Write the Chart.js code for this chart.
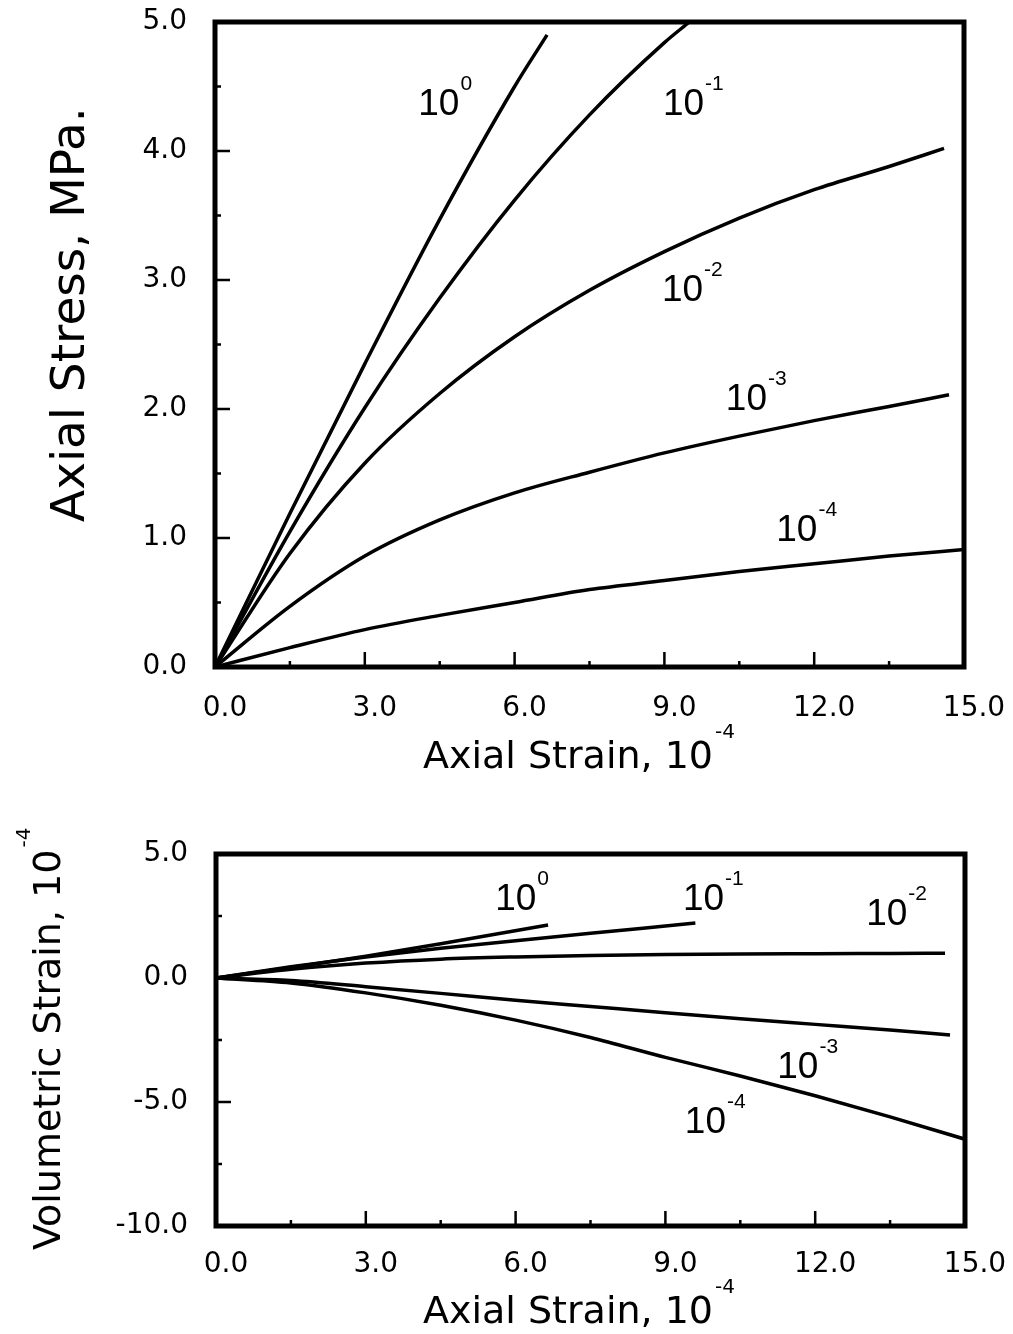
<!DOCTYPE html>
<html>
<head>
<meta charset="utf-8">
<title>Axial stress and volumetric strain vs axial strain</title>
<script src="https://cdn.jsdelivr.net/npm/chart.js@4.4.1/dist/chart.umd.min.js"></script>
<style>
  html, body { margin: 0; padding: 0; background: #fff; }
  #page { position: relative; width: 1013px; height: 1334px; overflow: hidden; }
  canvas { position: absolute; left: 0; }
  #stressChart { top: 0; }
  #volChart { top: 800px; }
</style>
</head>
<body>
<div id="page">
  <canvas id="stressChart" width="1013" height="800"></canvas>
  <canvas id="volChart" width="1013" height="534"></canvas>
</div>
<script>
// Strain-rate exponents of the five curves (rate = 10^exp)
const rateExponents = ['0', '-1', '-2', '-3', '-4'];

// Axial stress (MPa) against axial strain (10^-4), one pair of arrays per rate
const stressStrain_e0 = [0, 1.5, 3, 4.5, 6, 6.65];
const stress_e0       = [0, 1.19, 2.35, 3.47, 4.5, 4.9];
const stressStrain_e1 = [0, 1.5, 3, 4.5, 6, 7.5, 9, 9.5];
const stress_e1       = [0, 1.05, 2.01, 2.86, 3.62, 4.28, 4.84, 5.0];
const stressStrain_e2 = [0, 1.5, 3, 4.5, 6, 7.5, 9, 10.5, 12, 13.5, 14.6];
const stress_e2       = [0, 0.88, 1.58, 2.12, 2.56, 2.92, 3.22, 3.48, 3.70, 3.88, 4.02];
const stressStrain_e3 = [0, 1.5, 3, 4.5, 6, 7.5, 9, 10.5, 12, 13.5, 14.7];
const stress_e3       = [0, 0.47, 0.86, 1.14, 1.35, 1.51, 1.66, 1.79, 1.91, 2.02, 2.11];
const stressStrain_e4 = [0, 1.5, 3, 4.5, 6, 7.5, 9, 10.5, 12, 13.5, 15];
const stress_e4       = [0, 0.15, 0.29, 0.40, 0.50, 0.60, 0.67, 0.74, 0.80, 0.86, 0.91];

// Volumetric strain (10^-4) against axial strain (10^-4)
const volStrain_e0 = [0, 1.5, 3, 4.5, 6.65];
const vol_e0       = [0, 0.42, 0.88, 1.38, 2.14];
const volStrain_e1 = [0, 1.5, 3, 4.5, 6, 7.5, 9.6];
const vol_e1       = [0, 0.45, 0.85, 1.2, 1.5, 1.8, 2.22];
const volStrain_e2 = [0, 1.5, 3, 4.5, 6, 7.5, 9, 10.5, 12, 13.5, 14.6];
const vol_e2       = [0, 0.35, 0.6, 0.76, 0.85, 0.91, 0.95, 0.97, 0.98, 0.99, 1.0];
const volStrain_e3 = [0, 1.5, 3, 4.5, 6, 7.5, 9, 10.5, 12, 13.5, 14.7];
const vol_e3       = [0, -0.1, -0.35, -0.62, -0.9, -1.15, -1.4, -1.64, -1.87, -2.1, -2.3];
const volStrain_e4 = [0, 1.5, 3, 4.5, 6, 7.5, 9, 10.5, 12, 13.5, 15];
const vol_e4       = [0, -0.2, -0.6, -1.1, -1.7, -2.4, -3.2, -3.95, -4.75, -5.6, -6.5];

// Curve label anchors (data units: left edge / baseline of the "10")
const stressLabelX = [4.07, 8.97, 8.95, 10.23, 11.24];
const stressLabelY = [4.28, 4.28, 2.84, 1.99, 0.98];
const volLabelX    = [5.59, 9.35, 13.02, 11.24, 9.39];
const volLabelY    = [2.74, 2.74, 2.14, -4.03, -6.25];

// Tick values
const strainMajorTicks = [0, 3, 6, 9, 12, 15];
const strainMinorTicks = [1.5, 4.5, 7.5, 10.5, 13.5];
const stressMajorTicks = [0, 1, 2, 3, 4, 5];
const stressMinorTicks = [0.5, 1.5, 2.5, 3.5, 4.5];
const volMajorTicks    = [-10, -5, 0, 5];
const volMinorTicks    = [-7.5, -2.5, 2.5];

const TICK_FONT = { family: 'DejaVu Sans', size: 28 };

function pairs(xs, ys) {
  return xs.map((x, i) => ({ x: x, y: ys[i] }));
}

function curve(xs, ys) {
  return {
    data: pairs(xs, ys),
    borderColor: '#000',
    borderWidth: 3.5,
    pointRadius: 0,
    fill: false,
    cubicInterpolationMode: 'monotone'
  };
}

function tickSet(majors, minors) {
  return function (scale) {
    scale.ticks = majors.concat(minors).sort((a, b) => a - b).map(v => ({ value: v }));
  };
}

function fmt(majors) {
  return function (value) {
    return majors.includes(value) ? value.toFixed(1) : '';
  };
}

// Heavy frame round the plot area plus inward major/minor tick marks
const frameAndTicks = {
  id: 'frameAndTicks',
  afterDatasetsDraw(chart, args, opts) {
    const { ctx, chartArea: a, scales } = chart;
    ctx.save();
    ctx.strokeStyle = '#000';
    ctx.lineWidth = 2.5;
    ctx.beginPath();
    scales.x.ticks.forEach(t => {
      const px = scales.x.getPixelForValue(t.value);
      const len = opts.xMajors.includes(t.value) ? 15 : 6;
      ctx.moveTo(px, a.bottom);
      ctx.lineTo(px, a.bottom - len);
    });
    scales.y.ticks.forEach(t => {
      const py = scales.y.getPixelForValue(t.value);
      const len = opts.yMajors.includes(t.value) ? 15 : 6;
      ctx.moveTo(a.left, py);
      ctx.lineTo(a.left + len, py);
    });
    ctx.stroke();
    ctx.lineWidth = 5;
    ctx.strokeRect(a.left, a.top, a.right - a.left, a.bottom - a.top);
    ctx.restore();
  }
};

function drawPower(ctx, x, y, base, exp, baseFont, supFont, raise, gap) {
  ctx.font = baseFont;
  ctx.fillText(base, x, y);
  const w = ctx.measureText(base).width;
  ctx.font = supFont;
  ctx.fillText(exp, x + w + gap, y - raise);
}

// Rate labels next to each curve, and axis titles with exponents
const annotations = {
  id: 'annotations',
  afterDraw(chart, args, opts) {
    const { ctx, chartArea: a, scales } = chart;
    ctx.save();
    ctx.fillStyle = '#000';
    ctx.textAlign = 'left';
    ctx.textBaseline = 'alphabetic';
    opts.labelX.forEach((lx, i) => {
      const px = scales.x.getPixelForValue(lx);
      const py = scales.y.getPixelForValue(opts.labelY[i]);
      drawPower(ctx, px, py, '10', rateExponents[i],
        '37px "Liberation Sans"', '21px "Liberation Sans"', 25, 1);
    });
    // x title
    const xt = opts.xTitle;
    drawPower(ctx, a.left + xt.dx, a.bottom + xt.dy, xt.text, xt.sup,
      xt.size + 'px "DejaVu Sans"', '20px "DejaVu Sans"', 30, 2);
    // y title (rotated)
    const yt = opts.yTitle;
    ctx.save();
    ctx.translate(yt.x, a.top + yt.dy);
    ctx.rotate(-Math.PI / 2);
    if (yt.sup) {
      drawPower(ctx, 0, 0, yt.text, yt.sup, yt.size + 'px "DejaVu Sans"', '20px "DejaVu Sans"', 30, 2);
    } else {
      ctx.font = yt.size + 'px "DejaVu Sans"';
      ctx.fillText(yt.text, 0, 0);
    }
    ctx.restore();
    ctx.restore();
  }
};

function buildChart(id, cfg) {
  return new Chart(document.getElementById(id), {
    type: 'line',
    data: { datasets: cfg.datasets },
    plugins: [frameAndTicks, annotations],
    options: {
      responsive: false,
      animation: false,
      events: [],
      layout: { padding: { top: cfg.padTop, right: cfg.padRight, left: 0, bottom: 0 } },
      plugins: {
        legend: { display: false },
        tooltip: { enabled: false },
        frameAndTicks: { xMajors: strainMajorTicks, yMajors: cfg.yMajors },
        annotations: {
          labelX: cfg.labelX, labelY: cfg.labelY,
          xTitle: cfg.xTitle, yTitle: cfg.yTitle
        }
      },
      scales: {
        x: {
          type: 'linear', min: 0, max: 15,
          afterBuildTicks: tickSet(strainMajorTicks, strainMinorTicks),
          afterFit: s => {
            s.height = cfg.xAxisHeight;
            s.paddingLeft = 0;
            s.paddingRight = 0;
          },
          ticks: {
            autoSkip: false, maxRotation: 0, minRotation: 0,
            labelOffset: 10, padding: cfg.xLabelPad,
            color: '#000', font: TICK_FONT,
            callback: fmt(strainMajorTicks)
          },
          grid: { display: false, drawTicks: false },
          border: { display: false }
        },
        y: {
          type: 'linear', min: cfg.yMin, max: cfg.yMax,
          afterBuildTicks: tickSet(cfg.yMajors, cfg.yMinors),
          afterFit: s => {
            s.width = cfg.yAxisWidth;
            s.paddingTop = 0;
            s.paddingBottom = 0;
          },
          ticks: {
            autoSkip: false, padding: 28,
            color: '#000', font: TICK_FONT,
            callback: fmt(cfg.yMajors)
          },
          grid: { display: false, drawTicks: false },
          border: { display: false }
        }
      }
    }
  });
}

buildChart('stressChart', {
  datasets: [
    curve(stressStrain_e0, stress_e0),
    curve(stressStrain_e1, stress_e1),
    curve(stressStrain_e2, stress_e2),
    curve(stressStrain_e3, stress_e3),
    curve(stressStrain_e4, stress_e4)
  ],
  padTop: 22, padRight: 49, xAxisHeight: 133, yAxisWidth: 215, xLabelPad: 25,
  yMin: 0, yMax: 5, yMajors: stressMajorTicks, yMinors: stressMinorTicks,
  labelX: stressLabelX, labelY: stressLabelY,
  xTitle: { text: 'Axial Strain, 10', sup: '-4', dx: 208, dy: 101, size: 38 },
  yTitle: { text: 'Axial Stress, MPa.', x: 84, dy: 500, size: 47 }
});

buildChart('volChart', {
  datasets: [
    curve(volStrain_e0, vol_e0),
    curve(volStrain_e1, vol_e1),
    curve(volStrain_e2, vol_e2),
    curve(volStrain_e3, vol_e3),
    curve(volStrain_e4, vol_e4)
  ],
  padTop: 54, padRight: 48, xAxisHeight: 108, yAxisWidth: 216, xLabelPad: 22,
  yMin: -10, yMax: 5, yMajors: volMajorTicks, yMinors: volMinorTicks,
  labelX: volLabelX, labelY: volLabelY,
  xTitle: { text: 'Axial Strain, 10', sup: '-4', dx: 207, dy: 97, size: 38 },
  yTitle: { text: 'Volumetric Strain, 10', sup: '-4', x: 60, dy: 396, size: 38 }
});
</script>
</body>
</html>
